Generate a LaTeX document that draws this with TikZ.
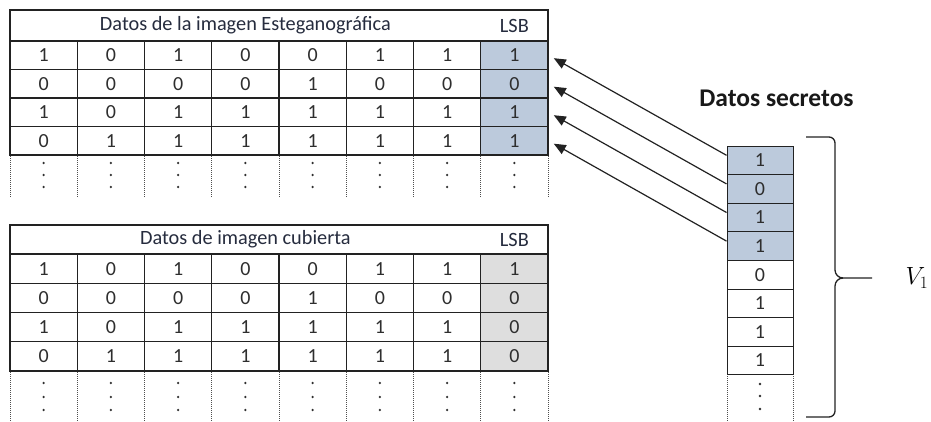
\documentclass[tikz,border=0pt]{standalone}
\usepackage{fontspec}
\setmainfont{Carlito}
\usetikzlibrary{arrows.meta}
\definecolor{lsbblue}{HTML}{BCCADC}
\definecolor{lsbgray}{HTML}{DEDEDE}
\definecolor{txt}{HTML}{2E2E2E}
\definecolor{hdr}{HTML}{262C3E}
\definecolor{gridc}{HTML}{222222}
\begin{document}
\begin{tikzpicture}[x=1pt,y=-1pt,
  cell/.style={draw=gridc, line width=1.1pt, minimum width=67.25pt, inner sep=0pt,
    font=\fontsize{20}{22}\selectfont, text=txt},
  scell/.style={draw=gridc, line width=1pt, minimum width=66pt, minimum height=28.6pt,
    inner sep=0pt, font=\fontsize{20}{22}\selectfont, text=txt},
  hdrtext/.style={inner sep=0pt, font=\fontsize{20.3}{24}\selectfont, text=hdr},
  outer/.style={draw=gridc, line width=2.4pt},
  dotline/.style={draw=gridc!80, line width=1pt, dash pattern=on 1pt off 1pt},
  dotmark/.style={fill=txt},
  arr/.style={draw=gridc, line width=1.2pt, -{Triangle[length=12pt,width=10pt]}, shorten >=6pt},
  bracestyle/.style={draw=gridc, line width=1.3pt}]
\useasboundingbox (0,0) rectangle (931,421);
\fill[white] (0,0) rectangle (931,421);

% ---------- top table: stego image ----------
\foreach \row [count=\r] in {{1,0,1,0,0,1,1,1},{0,0,0,0,1,0,0,0},{1,0,1,1,1,1,1,1},{0,1,1,1,1,1,1,1}} {
  \foreach \v [count=\c] in \row {
    \edef\fc{\ifnum\c=8 lsbblue\else white\fi}
    \node[cell, minimum height=28.5pt, fill=\fc] (t\r\c) at ({10+(\c-0.5)*67.25}, {41+(\r-0.5)*28.5}) {\v};
  }
}
\node[hdrtext] (th) at (245.4,25.5) {Datos de la imagen Esteganográfica};
\node[hdrtext] (tl) at (514.4,25.5) {LSB};
\draw[outer] (10,10) rectangle (548,155);
\draw[outer] (10,41) -- (548,41);
\foreach \i in {0,...,8} \draw[dotline] ({10+\i*67.25},156) -- ({10+\i*67.25},197);
\foreach \c in {1,...,8} \foreach \d in {163,175,187} \fill[dotmark] ({10+(\c-0.5)*67.25},\d) circle (1.3pt);

% ---------- bottom table: cover image ----------
\foreach \row [count=\r] in {{1,0,1,0,0,1,1,1},{0,0,0,0,1,0,0,0},{1,0,1,1,1,1,1,0},{0,1,1,1,1,1,1,0}} {
  \foreach \v [count=\c] in \row {
    \edef\fc{\ifnum\c=8 lsbgray\else white\fi}
    \node[cell, minimum height=29.2pt, fill=\fc] (b\r\c) at ({10+(\c-0.5)*67.25}, {254+(\r-0.5)*29.2}) {\v};
  }
}
\node[hdrtext] (bh) at (245.4,239.5) {Datos de imagen cubierta};
\node[hdrtext] (bl) at (514.4,239.5) {LSB};
\draw[outer] (10,225) rectangle (548,370.8);
\draw[outer] (10,254) -- (548,254);
\foreach \i in {0,...,8} \draw[dotline] ({10+\i*67.25},372) -- ({10+\i*67.25},421);
\foreach \c in {1,...,8} \foreach \d in {383,397,410} \fill[dotmark] ({10+(\c-0.5)*67.25},\d) circle (1.3pt);

% ---------- secret data ----------
\node[font=\bfseries\fontsize{25.5}{30}\selectfont, text=black!90, inner sep=0pt] (ds) at (776.5,98) {Datos secretos};
\foreach \v [count=\i] in {1,0,1,1,0,1,1,1} {
  \edef\fc{\ifnum\i<5 lsbblue\else white\fi}
  \node[scell, fill=\fc] (s\i) at (760,{146+(\i-0.5)*28.6}) {\v};
}
\draw[dotline] (727,376) -- (727,421);
\draw[dotline] (793,376) -- (793,421);
\foreach \d in {384,396,409} \fill[dotmark] (760,\d) circle (1.3pt);

% ---------- arrows ----------
\foreach \i in {1,...,4} \draw[arr] ([yshift=5pt]s\i.west) -- (t\i8.east);

% ---------- brace ----------
\coordinate (btop) at (806,137);
\coordinate (bbot) at (806,417);
\coordinate (btip) at (872,278);
\draw[bracestyle] (btop) -- (829,137) to[out=0,in=90] (835,143) -- (835,270)
  to[out=-90,in=180] (843,278) -- (btip);
\draw[bracestyle] (843,278) to[out=180,in=90] (835,286) -- (835,411)
  to[out=-90,in=0] (829,417) -- (bbot);
\node[font=\fontsize{24}{28}\selectfont, inner sep=0pt] (v1) at (917,278) {$V_1$};
\end{tikzpicture}
\end{document}
